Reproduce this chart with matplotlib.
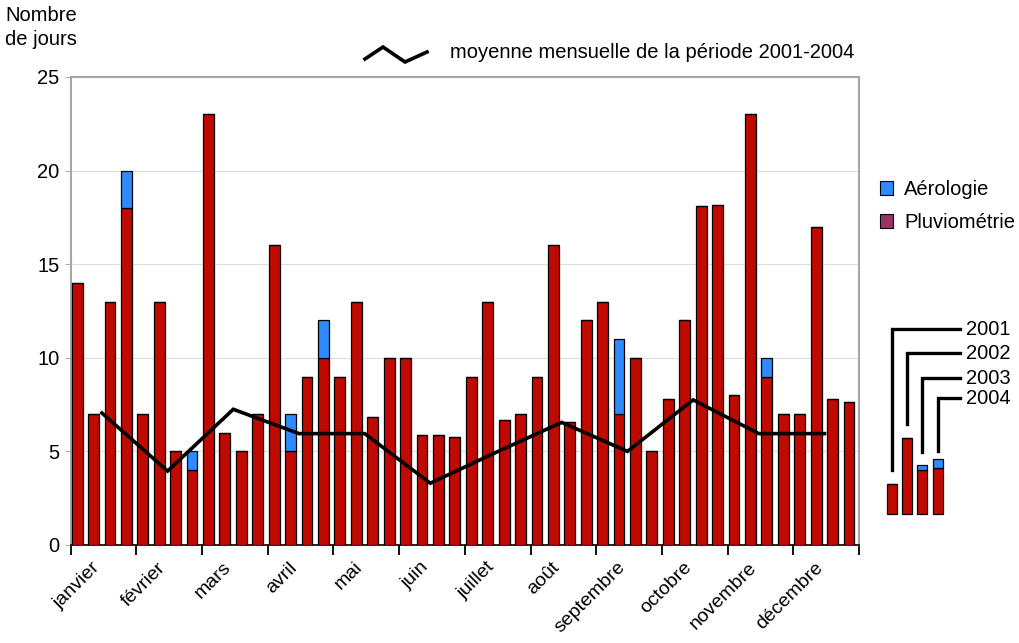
import numpy as np
import matplotlib.pyplot as plt
from matplotlib.patches import Patch
from matplotlib.lines import Line2D

plt.rcParams['font.family'] = ['Liberation Sans', 'DejaVu Sans']

# données
months = ["janvier", "février", "mars", "avril", "mai", "juin", "juillet",
          "août", "septembre", "octobre", "novembre", "décembre"]
years = ["2001", "2002", "2003", "2004"]

# jours de pluviométrie, 4 années par mois (2001..2004)
pluvio = [14, 7, 13, 18,
          7, 13, 5, 4,
          23, 6, 5, 7,
          16, 5, 9, 10,
          9, 13, 6.85, 10,
          10, 5.85, 5.85, 5.75,
          9, 13, 6.7, 7,
          9, 16, 6.55, 12,
          13, 7, 10, 5,
          7.8, 12, 18.1, 18.15,
          8, 23, 9, 7,
          7, 17, 7.8, 7.65]
# jours d'aérologie en plus
aero = [0, 0, 0, 2,
        0, 0, 0, 1,
        0, 0, 0, 0,
        0, 2, 0, 2,
        0, 0, 0, 0,
        0, 0, 0, 0,
        0, 0, 0, 0,
        0, 0, 0, 0,
        0, 4, 0, 0,
        0, 0, 0, 0,
        0, 0, 1, 0,
        0, 0, 0, 0]
# moyenne mensuelle 2001-2004
moyenne = [7.05, 3.95, 7.25, 5.95, 5.95, 3.3, 4.95, 6.55, 5.0, 7.75, 5.95, 5.95]

# petit schéma de légende des années
mini_red = [1.62, 4.1, 2.34, 2.46]
mini_blue = [0, 0, 0.27, 0.5]

RED = '#C00A00'
BLUE = '#2E8BFF'
W, H = 1019, 643
FS = 14.5

fig = plt.figure(figsize=(W / 100, H / 100), dpi=100)
ax = fig.add_axes([70.7 / W, 1 - 545 / H, 788.3 / W, 468 / H])

slots = np.arange(len(pluvio))
ax.bar(slots + 0.06, pluvio, width=0.66, align='edge', color=RED,
       edgecolor='black', linewidth=0.9, zorder=3)
ax.bar(slots + 0.06, aero, width=0.66, align='edge', bottom=pluvio,
       color=BLUE, edgecolor='black', linewidth=0.9, zorder=3)

centers = np.arange(len(months)) * 4 + 1.9
ax.plot(centers, moyenne, color='black', lw=2.6, zorder=4,
        solid_joinstyle='miter')

ax.set_xlim(0, 48)
ax.set_ylim(0, 25)
ax.set_yticks(range(0, 26, 5))
ax.set_xticks(np.arange(0, 49, 4))
ax.set_xticklabels([])
ax.set_xticks(centers + 0.1, minor=True)
ax.set_xticklabels(months, minor=True, rotation=45, ha='right', va='top',
                   fontsize=14)
ax.tick_params(axis='x', which='major', direction='out', length=7,
               width=1.3, color='black')
ax.tick_params(axis='x', which='minor', length=0, pad=10)
ax.tick_params(axis='y', length=4, color='#b0b0b0', labelsize=FS, pad=4)
ax.grid(axis='y', color='#dddddd', lw=0.8, zorder=0)
for s in ['left', 'top', 'right']:
    ax.spines[s].set_color('#a6a6a6')
    ax.spines[s].set_linewidth(1.5)
ax.spines['bottom'].set_color('black')
ax.spines['bottom'].set_linewidth(1.2)

fig.text(5 / W, 1 - 6 / H, "Nombre\nde jours", ha='left', va='top',
         fontsize=FS, linespacing=1.35)

# légende de la courbe moyenne
zx = np.array([365, 383, 405, 427]) / W
zy = 1 - np.array([59, 47, 62, 52]) / H
fig.add_artist(Line2D(zx, zy, color='black', lw=2.6,
                      solid_joinstyle='miter'))
fig.text(450 / W, 1 - 52 / H, "moyenne mensuelle de la période 2001-2004",
         ha='left', va='center', fontsize=FS)

handles = [Patch(facecolor=BLUE, edgecolor='black', lw=0.8, label='Aérologie'),
           Patch(facecolor='#993366', edgecolor='black', lw=0.8,
                 label='Pluviométrie')]
fig.legend(handles=handles, loc='upper left',
           bbox_to_anchor=(872 / W, 1 - 172 / H), frameon=False, fontsize=FS,
           handlelength=0.65, handleheight=0.65, handletextpad=0.55,
           labelspacing=0.7, borderaxespad=0)

# schéma des années
axm = fig.add_axes([880 / W, 1 - 514.3 / H, 135 / W, 194.3 / H])
axm.axis('off')
axm.set_xlim(0, 8.94)
axm.set_ylim(0, 10.38)
mx = np.arange(4) + 0.48
axm.bar(mx, mini_red, width=0.66, align='edge', color=RED,
        edgecolor='black', linewidth=0.9, clip_on=False)
axm.bar(mx, mini_blue, width=0.66, align='edge', bottom=mini_red,
        color=BLUE, edgecolor='black', linewidth=0.9, clip_on=False)
br_bottom = [2.37, 4.82, 3.34, 3.4]
br_top = [9.88, 8.6, 7.26, 6.2]
for i, yr in enumerate(years):
    cx = mx[i] + 0.33
    axm.plot([cx, cx, 5.3], [br_bottom[i], br_top[i], br_top[i]],
             color='black', lw=2.4, solid_joinstyle='miter', clip_on=False)
    axm.text(5.7, br_top[i], yr, ha='left', va='center', fontsize=FS)

fig.savefig('out.png', dpi=100)
